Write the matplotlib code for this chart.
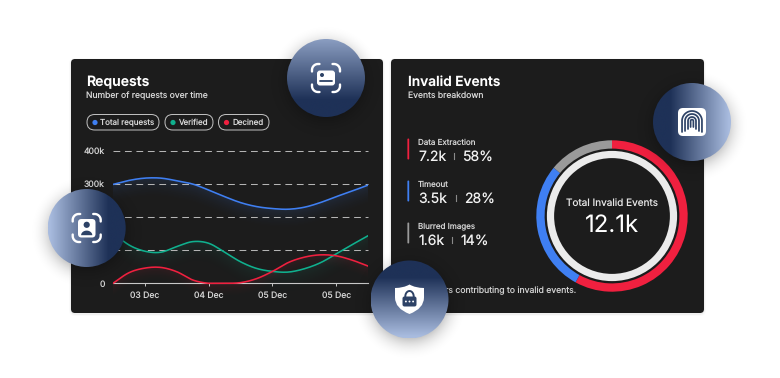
import numpy as np
import matplotlib
matplotlib.use("Agg")
import matplotlib.pyplot as plt
from matplotlib.patches import FancyBboxPatch, Circle, PathPatch
from matplotlib.path import Path

plt.rcParams['font.family'] = ['Inter', 'DejaVu Sans']
plt.rcParams['text.hinting'] = 'no_hinting'
plt.rcParams['text.hinting_factor'] = 1

# ---- data ----
band_positions = [-0.5, -0.25, 0, 0.25, 0.5, 0.75, 1, 1.25, 1.5, 1.75, 2, 2.25, 2.5, 2.75, 3, 3.25, 3.5]
date_labels = ['03 Dec', '04 Dec', '05 Dec', '05 Dec']
y_ticks = [0, 100000, 200000, 300000, 400000]
y_labels = ['0', '', '', '300k', '400k']
total_requests = [299, 311, 318, 318, 310, 300, 282, 262, 244, 232, 226, 224, 230, 244, 262, 279, 297]
verified = [153, 116, 97, 94, 111, 126, 121, 94, 65, 45, 36, 34, 44, 62, 89, 117, 144]
declined = [0, 32, 46, 48, 35, 10, 0, 0, 2, 14, 36, 63, 79, 86, 83, 70, 52]
series_names = ['Total requests', 'Verified', 'Decined']
event_names = ['Data Extraction', 'Timeout', 'Blurred Images']
event_amounts = ['7.2k', '3.5k', '1.6k']
event_shares = [58, 28, 14]
total_label = '12.1k'

BLUE, GREEN, RED, GRAY = '#3f7ff2', '#10b08e', '#f0203f', '#9a9a9a'
CARD = '#1c1c1c'
W, H = 780, 378
fig = plt.figure(figsize=(W / 100, H / 100), dpi=100, facecolor='white')


def px(s):
    return s * 0.72


def axes_px(x0, y0, x1, y1, **kw):
    return fig.add_axes([x0 / W, 1 - y1 / H, (x1 - x0) / W, (y1 - y0) / H], **kw)


# ---- base layer: cards and text ----
base = axes_px(0, 0, W, H, zorder=0)
base.set_xlim(0, W)
base.set_ylim(H, 0)
base.axis('off')


def card(x0, y0, x1, y1):
    for g, a in ((2, .02), (1, .04)):
        base.add_patch(FancyBboxPatch((x0 - g, y0 - g + 1), x1 - x0 + 2 * g, y1 - y0 + 2 * g,
                                      boxstyle='round,pad=0,rounding_size=6', fc='black', ec='none', alpha=a))
    base.add_patch(FancyBboxPatch((x0, y0), x1 - x0, y1 - y0, boxstyle='round,pad=0,rounding_size=4',
                                  fc=CARD, ec='none'))


card(71, 59, 383, 313)
card(391, 59, 704, 313)


def T(x, y, s, size, color='white', ha='left', weight='normal'):
    base.text(x, y, s, fontsize=px(size), color=color, ha=ha, va='center', weight=weight)


T(86.5, 82.5, 'Requests', 14, weight='semibold')
T(86.5, 95.3, 'Number of requests over time', 8.6, '#d6d6d6')
T(407.5, 82.5, 'Invalid Events', 13.7, weight='semibold')
T(407.5, 95.3, 'Events breakdown', 8.6, '#d6d6d6')

# legend pills
pills = [(87, 159), (165, 213), (218.5, 269)]
for (a, b), name, col in zip(pills, series_names, (BLUE, GREEN, RED)):
    base.add_patch(FancyBboxPatch((a, 114.5), b - a, 15.5, boxstyle='round,pad=0,rounding_size=7.7',
                                  fc='none', ec='#c4c4c4', lw=0.7))
    base.add_patch(Circle((a + 8, 122.5), 2.6, fc=col, ec='none'))
    T(a + 13.5, 122.5, name, 8.0, '#d8d8d8')

# events legend
rows_y = [142.5, 184.5, 226.5]
dividers = [453.7, 456, 452]
share_x = [462.5, 464.5, 460]
for y, name, amt, sh, col, dv, sx in zip(rows_y, event_names, event_amounts, event_shares,
                                         (RED, BLUE, GRAY), dividers, share_x):
    base.add_patch(FancyBboxPatch((407.4, y - 4), 1.8, 21, boxstyle='round,pad=0,rounding_size=0.9',
                                  fc=col, ec='none'))
    T(418, y, name, 8.0, '#d6d6d6')
    T(418, y + 14.5, amt, 14, '#f2f2f2')
    base.plot([dv, dv], [y + 10.5, y + 16.5], color='#8a8a8a', lw=0.8)
    T(sx, y + 14.5, f'{sh}%', 14, '#f2f2f2')

T(575.7, 291, 'Key factors contributing to invalid events.', 8.65, '#d0d0d0', ha='right')
T(612, 203, 'Total Invalid Events', 10, '#e6e6e6', ha='center')
T(612, 225.5, total_label, 24, 'white', ha='center')


# ---- line chart ----
def smooth(xs, ys, n=12):
    xs, ys = np.asarray(xs, float), np.asarray(ys, float)
    m = np.gradient(ys, xs)
    out_x, out_y = [], []
    for i in range(len(xs) - 1):
        h = xs[i + 1] - xs[i]
        t = np.linspace(0, 1, n, endpoint=False)
        out_x.append(xs[i] + t * h)
        out_y.append((2*t**3 - 3*t**2 + 1) * ys[i] + (t**3 - 2*t**2 + t) * h * m[i]
                     + (-2*t**3 + 3*t**2) * ys[i + 1] + (t**3 - t**2) * h * m[i + 1])
    return np.r_[np.concatenate(out_x), xs[-1]], np.r_[np.concatenate(out_y), ys[-1]]


k400 = 151.0
k0 = 283.3
bottom_px = 300.0
ax = axes_px(113, k400, 367.5, bottom_px, zorder=1)
ax.patch.set_alpha(0)
x0, x1 = -0.5, 3.49
ymin = -(bottom_px - k0) / (k0 - k400) * 400000
for vals, col, depth, amax in ((total_requests, BLUE, 70000, .13), (verified, GREEN, 75000, .10),
                               (declined, RED, 50000, .11)):
    sx, sy = smooth(band_positions, np.array(vals) * 1000)
    sy = np.maximum(sy, 0)
    gx = np.linspace(x0, x1, 260)
    gy = np.linspace(400000, ymin, 150)
    ly = np.interp(gx, sx, sy)
    d = (ly[None, :] - gy[:, None]) / depth
    alpha = np.where(d >= 0, amax * np.clip(1 - d, 0, 1) ** 2, 0)
    img = np.zeros(alpha.shape + (4,))
    img[..., :3] = matplotlib.colors.to_rgb(col)
    img[..., 3] = alpha
    ax.imshow(img, extent=(x0, x1, ymin, 400000), aspect='auto', zorder=1, interpolation='bilinear')
    ax.plot(sx, sy, color=col, lw=1.15, zorder=3, solid_capstyle='round')
ax.set_xlim(x0, x1)
ax.set_ylim(ymin, 400000)
for s in ('top', 'right', 'left'):
    ax.spines[s].set_visible(False)
ax.spines['bottom'].set_position(('data', 0))
ax.spines['bottom'].set_color('#c8c8c8')
ax.spines['bottom'].set_linewidth(0.8)
ax.set_xticks(range(4), date_labels)
ax.set_yticks(y_ticks, y_labels)
ax.tick_params(axis='x', length=2.2, width=0.7, color='#c8c8c8', labelcolor='#d6d6d6',
               labelsize=px(8.6), pad=3.6)
ax.tick_params(axis='y', length=0, labelcolor='#d6d6d6', labelsize=px(8.6), pad=5.8)
for v in y_ticks[1:]:
    ax.axhline(v, color='#b4b4b4', lw=0.75, dashes=(6.5, 4.5), zorder=2, clip_on=False)

# ---- donut ----
cx, cy, R = 612, 216, 75.7
dn = axes_px(cx - R, cy - R, cx + R, cy + R, zorder=1)
dn.pie(event_shares, colors=[RED, BLUE, GRAY], startangle=90, counterclock=False, radius=1,
       wedgeprops=dict(width=8.3 / R, linewidth=0))
dn.add_patch(Circle((0, 0), 61.5 / R, fc='none', ec='#ebebeb', lw=px(7.2)))
dn.set_xlim(-1, 1)
dn.set_ylim(-1, 1)
dn.axis('off')
dn.patch.set_alpha(0)

# ---- floating badges ----
ov = axes_px(0, 0, W, H, zorder=5)
ov.patch.set_alpha(0)
ov.axis('off')
LIGHT = np.array(matplotlib.colors.to_rgb('#a9bcdf'))
DARK = np.array(matplotlib.colors.to_rgb('#1e3157'))
BR = 39


def badge(cx, cy, direction, start=.02):
    # soft shadow
    s = 62
    yy, xx = np.mgrid[-s:s + 1, -s:s + 1].astype(float)
    r = np.hypot(xx, yy - 4)
    a = 0.24 * np.clip((s - 2 - r) / (s - 2 - BR + 4), 0, 1) ** 2.4
    img = np.zeros(a.shape + (4,))
    img[..., 3] = a
    ov.imshow(img, extent=(cx - s, cx + s, cy + s, cy - s), aspect='auto', zorder=1)
    # gradient disc
    g = np.linspace(0, 1, 160)
    dx, dy = direction
    gx, gy = np.meshgrid(g, g)
    t = (gx * dx + gy * dy) if dx + dy > 0 else (1 + gx * dx + gy * dy)
    t = np.clip((t - start) / (.78 - start), 0, 1)[..., None]
    rgb = LIGHT * (1 - t) + DARK * t
    im = ov.imshow(rgb, extent=(cx - BR, cx + BR, cy + BR, cy - BR), aspect='auto', zorder=2)
    clip = Circle((cx, cy), BR, transform=ov.transData, fc='none', ec='none')
    ov.add_patch(clip)
    im.set_clip_path(clip)


def rrect(x, y, w, h, r, fc, z=4):
    ov.add_patch(FancyBboxPatch((x, y), w, h, boxstyle=f'round,pad=0,rounding_size={r}',
                                fc=fc, ec='none', zorder=z))


def brackets(cx, cy, half=14):
    th = np.linspace(0, np.pi / 2, 14)
    rad = 6
    for sx, sy in ((1, 1), (1, -1), (-1, 1), (-1, -1)):
        xs = cx + sx * (half - rad + rad * np.cos(th))
        ys = cy + sy * (half - rad + rad * np.sin(th))
        xs = np.r_[cx + sx * half, xs, cx + sx * (half - rad - 1.5)]
        ys = np.r_[cy + sy * (half - rad - 1.5), ys, cy + sy * half]
        ov.plot(xs, ys, color='white', lw=1.7, solid_capstyle='round', zorder=4)


ICON = '#2d4266'

# card badge (top)
badge(326, 78, (0, 1), start=-.22)
brackets(326, 78)
rrect(317, 70.5, 18, 15, 3, 'white')
ov.add_patch(Circle((322, 75), 2, fc=ICON, ec='none', zorder=5))
ov.plot([320, 332], [81, 81], color=ICON, lw=1.3, zorder=5, solid_capstyle='round')

# face badge (left)
badge(86.7, 228, (1, 0))
brackets(86.7, 228)
rrect(78, 219, 17.5, 18.5, 3.5, 'white')
ov.add_patch(Circle((86.7, 224.8), 3.1, fc=ICON, ec='none', zorder=5))
th = np.linspace(np.pi, 2 * np.pi, 20)
ov.fill(86.7 + 5.6 * np.cos(th), 235.2 + 4.6 * np.sin(th), color=ICON, ec='none', zorder=5)

# shield badge (bottom)
badge(409.5, 299.5, (0, -1))
sx0, sy0 = 409.5, 299.5
verts = [(sx0, sy0 - 15),
         (sx0 + 6, sy0 - 11.5), (sx0 + 14.5, sy0 - 11.5),
         (sx0 + 14.5, sy0 - 2),
         (sx0 + 14.5, sy0 + 9), (sx0, sy0 + 14.5),
         (sx0 - 14.5, sy0 + 9), (sx0 - 14.5, sy0 - 2),
         (sx0 - 14.5, sy0 - 11.5),
         (sx0 - 6, sy0 - 11.5), (sx0, sy0 - 15)]
codes = [Path.MOVETO, Path.CURVE3, Path.CURVE3, Path.LINETO, Path.CURVE3, Path.CURVE3,
         Path.CURVE3, Path.CURVE3, Path.LINETO, Path.CURVE3, Path.CURVE3]
ov.add_patch(PathPatch(Path(verts, codes), fc='white', ec='none', zorder=4))
rrect(sx0 - 7, sy0 - 3, 14, 10, 2, ICON, 5)
th = np.linspace(np.pi, 2 * np.pi, 20)
ov.plot(sx0 + 4.2 * np.cos(th), sy0 - 3 + 5.5 * np.sin(th), color=ICON, lw=1.4, zorder=5)
for d in (-3.6, 0, 3.6):
    ov.add_patch(Circle((sx0 + d, sy0 + 2), 0.95, fc='white', ec='none', zorder=6))

# fingerprint badge (right)
badge(692, 122, (-1, 0))
fx, fy = 692, 122
rrect(fx - 14, fy - 14, 28, 28, 5, 'white')
for r, b in ((10, 10), (7, 9), (4, 7), (1.4, 5)):
    th = np.linspace(np.pi * 1.03, np.pi * 1.97, 24)
    xs = np.r_[fx + r * np.cos(th[0]), fx + r * np.cos(th), fx + r * np.cos(th[-1])]
    ys = np.r_[fy + b, fy - 1 + r * np.sin(th), fy + b]
    ov.plot(xs, ys, color=ICON, lw=1.25, solid_capstyle='round', zorder=5)

ov.set_xlim(0, W)
ov.set_ylim(H, 0)

fig.savefig('out.png', dpi=100, facecolor='white')
